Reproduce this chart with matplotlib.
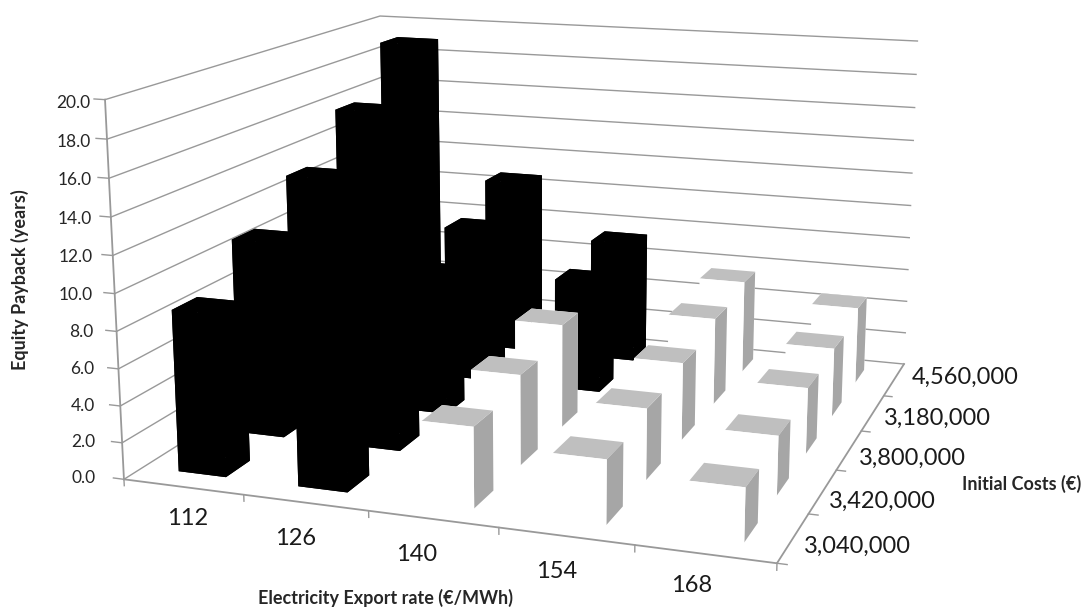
import numpy as np
import matplotlib
matplotlib.use('Agg')
from matplotlib import pyplot as plt
from mpl_toolkits.mplot3d import proj3d

plt.rcParams['font.family'] = ['Lato', 'DejaVu Sans']

export_rates = ['112', '126', '140', '154', '168']
initial_costs = ['3,040,000', '3,420,000', '3,800,000', '3,180,000', '4,560,000']
z_ticks = [0, 2, 4, 6, 8, 10, 12, 14, 16, 18, 20]
# rows go from the lowest initial cost to the highest
payback = [[8.8, 6.0, 4.3, 3.4, 2.8],
           [11.0, 7.0, 5.0, 3.9, 3.2],
           [13.2, 8.1, 5.9, 4.4, 3.7],
           [15.9, 9.2, 6.6, 5.1, 4.0],
           [19.0, 10.7, 7.4, 5.6, 4.6]]
is_black = [[1, 1, 0, 0, 0],
            [1, 1, 0, 0, 0],
            [1, 1, 0, 0, 0],
            [1, 1, 1, 0, 0],
            [1, 1, 1, 0, 0]]

line_col = '#999999'
top_col = '#bfbfbf'
side_col = '#a6a6a6'

fig = plt.figure(figsize=(10.88, 6.08), dpi=100)
ax = fig.add_axes([0, 0, 1, 1], projection='3d', computed_zorder=False)
ax.set_xlim(0, 5)
ax.set_ylim(0, 5)
ax.set_zlim(0, 20)
ax.set_box_aspect((1, 0.981, 0.576))
ax.view_init(13.614, -70.742)
ax.set_proj_type('persp', focal_length=0.426)
ax.set_axis_off()

# stretch the axes so one projection unit is 4953.9 px, with the origin at (546.7, 245.8)
ax.apply_aspect()
p0, p1 = ax.transData.transform([(0, 0), (0.01, 0.01)])
box = ax.get_position().transformed(fig.transFigure)
size = box.width * 4953.9 / ((p1[0] - p0[0]) / 0.01)
fx = (p0[0] - box.x0) / box.width
fy = (p0[1] - box.y0) / box.height
ax.set_position([(546.7 - fx * size) / 1088, (608 - 245.8 - fy * size) / 608, size / 1088, size / 608])
ax.apply_aspect()
M = ax.get_proj()

# walls
for z in z_ticks:
    ax.plot([0, 0, 5], [0, 5, 5], [z, z, z], color=line_col, lw=1.0, zorder=1)
    ax.plot([0, -0.09], [0, 0], [z, z], color=line_col, lw=1.0, zorder=1)
ax.plot([0, 0], [0, 0], [0, 20], color=line_col, lw=1.3, zorder=1)
ax.plot([0, 5, 5], [0, 0, 5], [0, 0, 0], color=line_col, lw=1.3, zorder=1)
for i in range(0, 6):
    ax.plot([i, i], [0, 0], [0, -0.35], color=line_col, lw=1.0, zorder=1)
for j in range(0, 5):
    ax.plot([5, 5.07], [j, j], [0, 0], color=line_col, lw=1.0, zorder=1)

# bars, back row first so the nearer ones cover the rest
order = 2
for j in range(4, -1, -1):
    for i in range(5):
        if is_black[j][i]:
            cols = ['black'] * 6
        else:
            cols = ['white', top_col, 'white', 'white', 'white', side_col]
        ax.bar3d(i + 0.3, j + 0.3, 0, 0.4, 0.4, payback[j][i], color=cols, shade=False, zorder=order)
        order += 1


def label(x, y, z, text, dx, dy, **kw):
    xp, yp, _ = proj3d.proj_transform(x, y, z, M)
    ax.annotate(text, (xp, yp), xytext=(dx, dy), textcoords='offset pixels', va='center', zorder=100,
                annotation_clip=False, **kw)


for z in z_ticks:
    label(0, 0, z, '%.1f' % z, -28 + 0.65 * z, 1 - 0.2 * z, ha='right', fontsize=12.5, color='#262626')
x_shift = [(4, -32), (-10, -36), (-16, -35), (-10, -35), (-14, -31)]
for i, name in enumerate(export_rates):
    label(i + 0.5, 0, 0, name, x_shift[i][0], x_shift[i][1], ha='center', fontsize=17, color='#1a1a1a')
y_shift = [(11, -9), (6, -10), (10, -8), (11, -5), (18, 2)]
for j, name in enumerate(initial_costs):
    label(5, j + 0.5, 0, name, y_shift[j][0], y_shift[j][1], ha='left', fontsize=17, color='#1a1a1a')

fig.text(385 / 1088, 1 - 598 / 608, 'Electricity Export rate (€/MWh)', ha='center', va='center', fontsize=13,
         fontweight='bold', color='#262626')
fig.text(20 / 1088, 1 - 280 / 608, 'Equity Payback (years)', ha='center', va='center', rotation=90, fontsize=13,
         fontweight='bold', color='#262626')
fig.text(1022 / 1088, 1 - 484 / 608, 'Initial Costs (€)', ha='center', va='center', fontsize=13,
         fontweight='bold', color='#262626')

fig.savefig('out.png', dpi=100)
